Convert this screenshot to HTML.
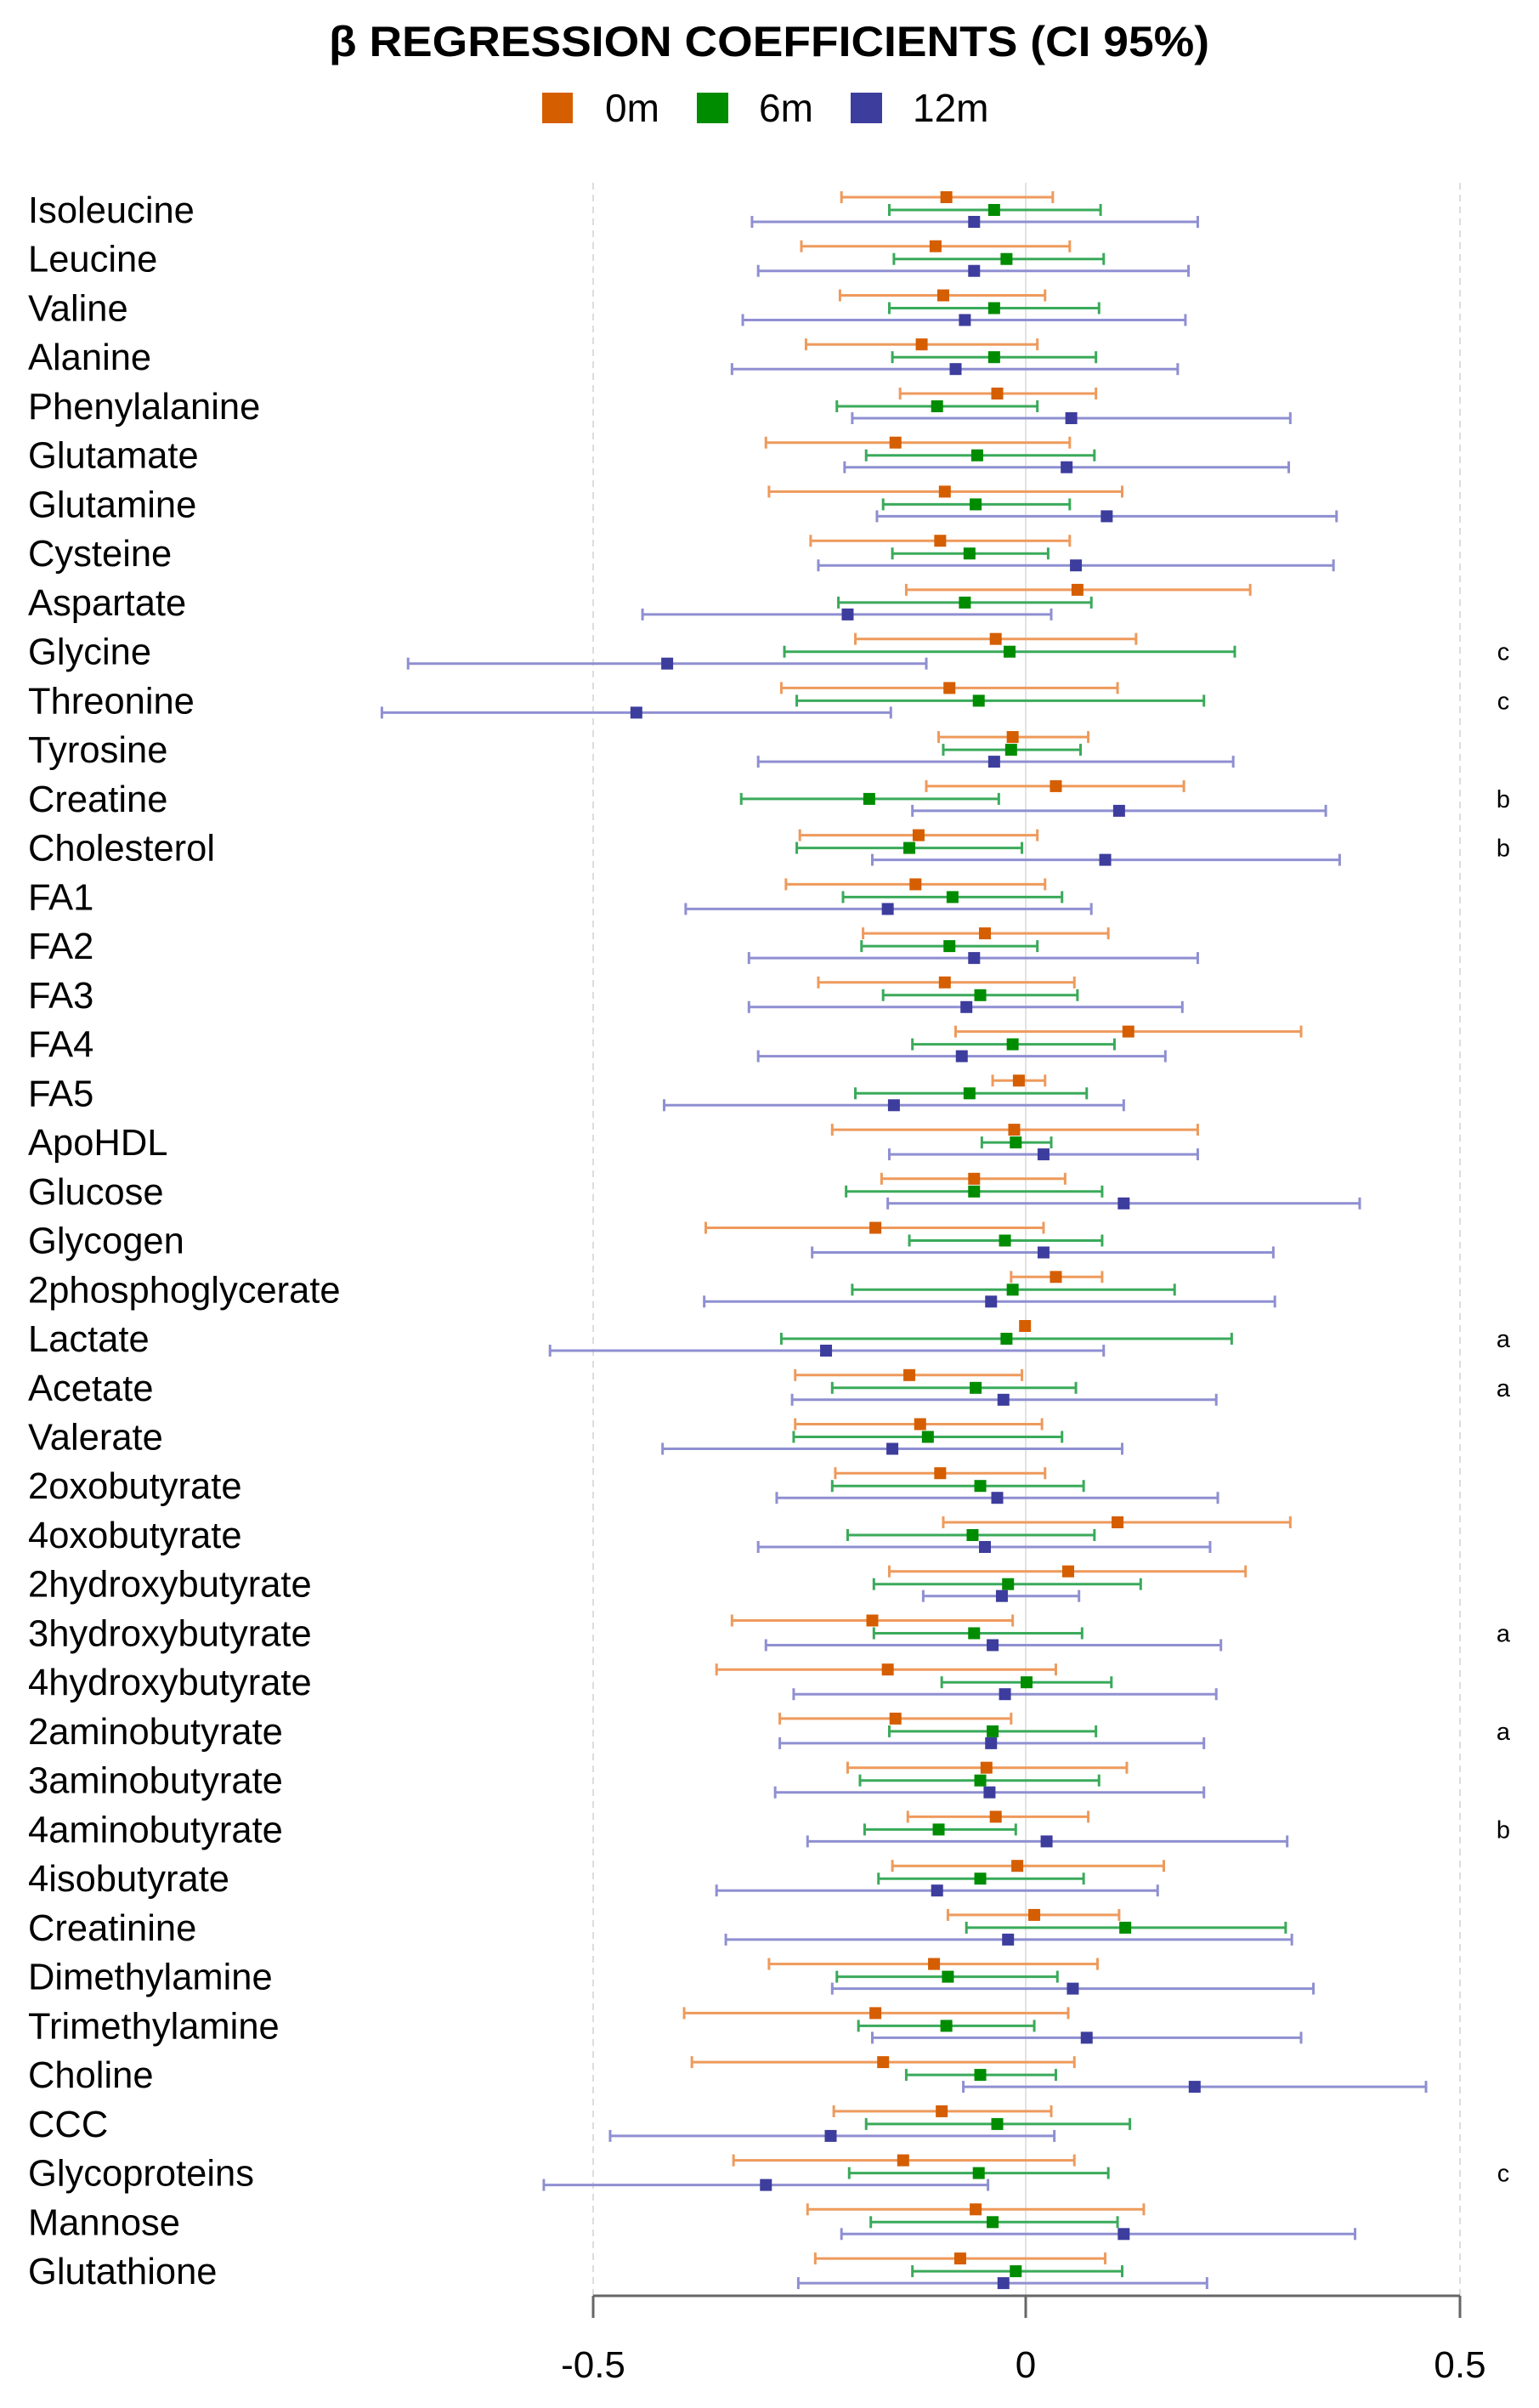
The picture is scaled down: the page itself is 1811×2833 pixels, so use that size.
<!DOCTYPE html>
<html><head><meta charset="utf-8"><style>
html,body{margin:0;padding:0;background:#fff;}
svg{display:block;}
</style></head><body>
<svg id="s" width="1811" height="2833" xmlns="http://www.w3.org/2000/svg" font-family="Liberation Sans, Arial, sans-serif">
<rect width="1811" height="2833" fill="#fff"/>
<text x="905" y="66" text-anchor="middle" font-size="50" font-weight="bold" textLength="1036" lengthAdjust="spacingAndGlyphs">β REGRESSION COEFFICIENTS (CI 95%)</text>
<rect x="638" y="109" width="36" height="36" fill="#d55e00"/>
<text x="712" y="143" font-size="46">0m</text>
<rect x="820" y="109" width="37" height="36" fill="#008c00"/>
<text x="893" y="143" font-size="46">6m</text>
<rect x="1001" y="109" width="37" height="36" fill="#3d3d9e"/>
<text x="1074" y="143" font-size="46">12m</text>
<line x1="698" y1="215" x2="698" y2="2701" stroke="#ddd" stroke-width="2" stroke-dasharray="8,6"/>
<line x1="1718" y1="215" x2="1718" y2="2701" stroke="#ddd" stroke-width="2" stroke-dasharray="8,6"/>
<line x1="1207" y1="215" x2="1207" y2="2701" stroke="#e2e2e2" stroke-width="2"/>
<line x1="698" y1="2701" x2="1718" y2="2701" stroke="#666" stroke-width="3"/>
<line x1="698" y1="2701" x2="698" y2="2727" stroke="#666" stroke-width="3"/>
<line x1="1207" y1="2701" x2="1207" y2="2727" stroke="#666" stroke-width="3"/>
<line x1="1718" y1="2701" x2="1718" y2="2727" stroke="#666" stroke-width="3"/>
<text x="698" y="2797" font-size="44" text-anchor="middle">-0.5</text>
<text x="1207" y="2797" font-size="44" text-anchor="middle">0</text>
<text x="1718" y="2797" font-size="44" text-anchor="middle">0.5</text>
<g id="g"></g>
</svg>
<script>
var D=[
["Isoleucine",[547,615,684],[578,646,715],[489,633,778],""],
["Leucine",[521,608,695],[581,654,717],[493,633,772],""],
["Valine",[546,613,679],[578,646,714],[483,627,770],""],
["Alanine",[524,599,674],[580,646,712],[476,621,765],""],
["Phenylalanine",[585,648,712],[544,609,674],[554,696,838],""],
["Glutamate",[498,582,695],[563,635,711],[549,693,837],""],
["Glutamine",[500,614,729],[574,634,695],[570,719,868],""],
["Cysteine",[527,611,695],[580,630,681],[532,699,866],""],
["Aspartate",[589,700,812],[545,627,709],[418,551,683],""],
["Glycine",[556,647,738],[510,656,802],[266,434,602],"c"],
["Threonine",[508,617,726],[518,636,782],[249,414,579],"c"],
["Tyrosine",[610,658,707],[613,657,702],[493,646,801],""],
["Creatine",[602,686,769],[482,565,649],[593,727,861],"b"],
["Cholesterol",[520,597,674],[518,591,664],[567,718,870],"b"],
["FA1",[511,595,679],[548,619,690],[446,577,709],""],
["FA2",[561,640,720],[560,617,674],[487,633,778],""],
["FA3",[532,614,698],[574,637,700],[487,628,768],""],
["FA4",[621,733,845],[593,658,724],[493,625,757],""],
["FA5",[645,662,679],[556,630,706],[432,581,730],""],
["ApoHDL",[541,659,778],[638,660,683],[578,678,778],""],
["Glucose",[573,633,692],[550,633,716],[577,730,883],""],
["Glycogen",[459,569,678],[591,653,716],[528,678,827],""],
["2phosphoglycerate",[657,686,716],[554,658,763],[458,644,828],""],
["Lactate",[664,666,668],[508,654,800],[358,537,717],"a"],
["Acetate",[517,591,664],[541,634,699],[515,652,790],"a"],
["Valerate",[517,598,677],[516,603,690],[431,580,729],""],
["2oxobutyrate",[543,611,679],[541,637,704],[505,648,791],""],
["4oxobutyrate",[613,726,838],[551,632,711],[493,640,786],""],
["2hydroxybutyrate",[578,694,809],[568,655,741],[600,651,701],""],
["3hydroxybutyrate",[476,567,658],[568,633,703],[498,645,793],"a"],
["4hydroxybutyrate",[466,577,686],[612,667,722],[516,653,790],""],
["2aminobutyrate",[507,582,657],[578,645,712],[507,644,782],"a"],
["3aminobutyrate",[551,641,732],[559,637,714],[504,643,782],""],
["4aminobutyrate",[590,647,707],[562,610,660],[525,680,836],"b"],
["4isobutyrate",[580,661,756],[571,637,704],[466,609,752],""],
["Creatinine",[616,672,727],[628,731,835],[472,655,839],""],
["Dimethylamine",[500,607,713],[544,616,687],[541,697,853],""],
["Trimethylamine",[445,569,694],[558,615,672],[567,706,845],""],
["Choline",[450,574,698],[589,637,686],[626,776,926],""],
["CCC",[542,612,683],[563,648,734],[397,540,685],""],
["Glycoproteins",[477,587,698],[552,636,720],[354,498,642],"c"],
["Mannose",[525,634,743],[566,645,726],[547,730,880],""],
["Glutathione",[530,624,718],[593,660,729],[519,652,784],""]
];
var S=[{off:-15,l:"#ee9a5c",m:"#d55e00"},{off:0,l:"#3aaa5a",m:"#008c00"},{off:14,l:"#8f8fd2",m:"#3d3d9e"}];
function X(d){return 698+(d-386)*1.8149;}
var h="";
D.forEach(function(r,i){
 var y=247+57.74*i;
 h+='<text x="33" y="'+(y+15).toFixed(1)+'" font-size="43.5">'+r[0]+'</text>';
 if(r[4])h+='<text x="1769" y="'+(y+10).toFixed(1)+'" font-size="29" text-anchor="middle">'+r[4]+'</text>';
 for(var k=0;k<3;k++){
  var s=S[k],v=r[k+1],yy=(y+s.off).toFixed(1),a=X(v[0]),p=X(v[1]),b=X(v[2]);
  h+='<line x1="'+a+'" y1="'+yy+'" x2="'+b+'" y2="'+yy+'" stroke="'+s.l+'" stroke-width="3"/>';
  h+='<line x1="'+a+'" y1="'+(yy-7)+'" x2="'+a+'" y2="'+(+yy+7)+'" stroke="'+s.l+'" stroke-width="3"/>';
  h+='<line x1="'+b+'" y1="'+(yy-7)+'" x2="'+b+'" y2="'+(+yy+7)+'" stroke="'+s.l+'" stroke-width="3"/>';
  h+='<rect x="'+(p-7)+'" y="'+(yy-7)+'" width="14" height="14" fill="'+s.m+'"/>';
 }
});
document.getElementById("g").innerHTML=h;
</script>
</body></html>
